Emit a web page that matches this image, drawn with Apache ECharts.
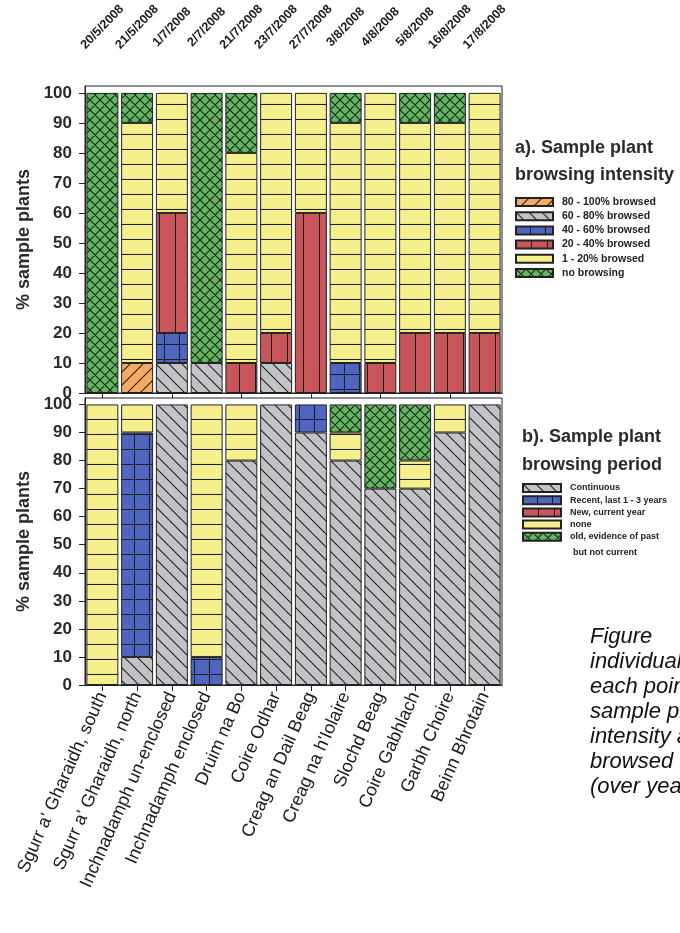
<!DOCTYPE html>
<html><head><meta charset="utf-8">
<script src="https://cdn.jsdelivr.net/npm/echarts@6/dist/echarts.min.js"></script>
<style>html,body{margin:0;padding:0;background:#fff}#c{width:680px;height:933px}</style>
</head><body><div id="c"></div>
<script>
// ---- data ----
const dates = ['20/5/2008','21/5/2008','1/7/2008','2/7/2008','21/7/2008','23/7/2008','27/7/2008','3/8/2008','4/8/2008','5/8/2008','16/8/2008','17/8/2008'];
const sites = ["Sgurr a' Gharaidh, south","Sgurr a' Gharaidh, north","Inchnadamph un-enclosed","Inchnadamph enclosed","Druim na Bo","Coire Odhar","Creag an Dail Beag","Creag na h'Iolaire","Slochd Beag","Coire Gabhlach","Garbh Choire","Beinn Bhrotain"];
const yTicks = [0,10,20,30,40,50,60,70,80,90,100];

const intensityNames = ['80 - 100% browsed','60 - 80% browsed','40 - 60% browsed','20 - 40% browsed','1 - 20% browsed','no browsing'];
const int80to100 = [0,10,0,0,0,0,0,0,0,0,0,0];
const int60to80  = [0,0,10,10,0,10,0,0,0,0,0,0];
const int40to60  = [0,0,10,0,0,0,0,10,0,0,0,0];
const int20to40  = [0,0,40,0,10,10,60,0,10,20,20,20];
const int1to20   = [0,80,40,0,70,80,40,80,90,70,70,80];
const intNoBrowse= [100,10,0,90,20,0,0,10,0,10,10,0];

const periodNames = ['Continuous','Recent, last 1 - 3 years','New, current year','none','old, evidence of past'];
const perContinuous = [0,10,100,0,80,100,90,80,70,70,90,100];
const perRecent     = [0,80,0,10,0,0,10,0,0,0,0,0];
const perNew        = [0,0,0,0,0,0,0,0,0,0,0,0];
const perNone       = [100,10,0,90,20,0,0,10,0,10,10,0];
const perOld        = [0,0,0,0,0,0,0,10,30,20,0,0];

// ---- patterns ----
function pat(bg, kind, s){
  const c=document.createElement('canvas'); c.width=s; c.height=s;
  const g=c.getContext('2d'); g.fillStyle=bg; g.fillRect(0,0,s,s);
  g.strokeStyle='#1e1e1e'; g.lineWidth=1.1; g.beginPath();
  if(kind==='h'||kind==='grid'){ g.moveTo(0,s-0.5); g.lineTo(s,s-0.5); }
  if(kind==='v'||kind==='grid'){ g.moveTo(s-0.5,0); g.lineTo(s-0.5,s); }
  if(kind==='bs'||kind==='x'){ for(let k=-1;k<=1;k++){ g.moveTo(k*s,0); g.lineTo(k*s+s,s);} }
  if(kind==='fs'||kind==='x'){ for(let k=-1;k<=1;k++){ g.moveTo(k*s,s); g.lineTo(k*s+s,0);} }
  g.stroke();
  return {image:c, repeat:'repeat'};
}
const P = {
  orange: pat('#f4aa62','fs',13),
  grey:   pat('#c3c3c7','bs',13),
  blue:   pat('#5065c0','grid',15),
  red:    pat('#c8565a','v',16),
  yellow: pat('#f5f08c','h',15),
  green:  pat('#62b85e','x',10)
};

const FONT = "'Liberation Sans', Arial, sans-serif";
const nz = a => a.map(v => v === 0 ? '-' : v);
function bar(name, data, color, xi, yi){
  return {name, type:'bar', stack:'s'+yi, xAxisIndex:xi, yAxisIndex:yi, data:nz(data),
    barCategoryGap:'8%', itemStyle:{color, borderColor:'#222', borderWidth:1}};
}

const yAxisBase = (gi) => ({
  type:'value', gridIndex:gi, min:0, max:102.3, interval:10,
  axisLine:{show:true, lineStyle:{color:'#222', width:1}},
  axisTick:{show:true, length:6, customValues:yTicks, lineStyle:{color:'#222'}},
  axisLabel:{customValues:yTicks, margin:13, color:'#2a2a2a', fontSize:17, fontWeight:'bold', fontFamily:FONT},
  splitLine:{show:false},
  name:'% sample plants', nameLocation:'middle', nameGap:52,
  nameTextStyle:{color:'#2a2a2a', fontSize:18, fontWeight:'bold', fontFamily:FONT}
});

const chart = echarts.init(document.getElementById('c'), null, {renderer:'canvas'});
chart.setOption({
  animation:false,
  backgroundColor:'#fff',
  grid:[
    {left:85, right:178, top:86, height:307, show:true, borderColor:'#222', borderWidth:1, backgroundColor:'transparent', outerBoundsMode:'none', containLabel:false},
    {left:85, right:178, top:398, height:287, show:true, borderColor:'#222', borderWidth:1, backgroundColor:'transparent', outerBoundsMode:'none', containLabel:false}
  ],
  xAxis:[
    {type:'category', gridIndex:0, data:dates, position:'bottom',
      axisLine:{lineStyle:{color:'#222'}}, axisTick:{show:true, alignWithLabel:true, length:5, lineStyle:{color:'#222'}}, axisLabel:{show:false}},
    {type:'category', gridIndex:0, data:dates, position:'top',
      axisLine:{show:false}, axisTick:{show:false},
      axisLabel:{show:true, interval:0, rotate:-46, align:'center', verticalAlign:'middle', margin:59, color:'#1a1a1a', fontSize:12.5, fontWeight:'bold', fontFamily:FONT}},
    {type:'category', gridIndex:1, data:sites, position:'bottom',
      axisLine:{lineStyle:{color:'#222'}}, axisTick:{show:true, alignWithLabel:true, length:6, lineStyle:{color:'#222'}},
      axisLabel:{interval:0, rotate:66, margin:8, color:'#1a1a1a', fontSize:18, fontFamily:FONT}}
  ],
  yAxis:[yAxisBase(0), yAxisBase(1)],
  legend:[
    {data:intensityNames, orient:'vertical', left:510, top:191, itemWidth:37, itemHeight:8, itemGap:2.2, icon:'rect',
      textStyle:{fontSize:10.5, fontWeight:'bold', color:'#222', fontFamily:FONT, lineHeight:12, padding:[0,0,0,4]}, selectedMode:false},
    {data:periodNames, orient:'vertical', left:517, top:478, itemWidth:38, itemHeight:8, itemGap:2.2, icon:'rect',
      textStyle:{fontSize:9, fontWeight:'bold', color:'#222', fontFamily:FONT, lineHeight:10, padding:[0,0,0,4]}, selectedMode:false}
  ],
  series:[
    bar(intensityNames[0], int80to100, P.orange, 0, 0),
    bar(intensityNames[1], int60to80, P.grey, 0, 0),
    bar(intensityNames[2], int40to60, P.blue, 0, 0),
    bar(intensityNames[3], int20to40, P.red, 0, 0),
    bar(intensityNames[4], int1to20, P.yellow, 0, 0),
    bar(intensityNames[5], intNoBrowse, P.green, 0, 0),
    bar(periodNames[0], perContinuous, P.grey, 2, 1),
    bar(periodNames[1], perRecent, P.blue, 2, 1),
    bar(periodNames[2], perNew, P.red, 2, 1),
    bar(periodNames[3], perNone, P.yellow, 2, 1),
    bar(periodNames[4], perOld, P.green, 2, 1)
  ],
  graphic:[
    {type:'text', left:515, top:139, style:{text:'a). Sample plant', font:"bold 18px "+FONT, fill:'#2a2a2a'}},
    {type:'text', left:515, top:166, style:{text:'browsing intensity', font:"bold 18px "+FONT, fill:'#2a2a2a'}},
    {type:'text', left:522, top:428, style:{text:'b). Sample plant', font:"bold 18px "+FONT, fill:'#2a2a2a'}},
    {type:'text', left:522, top:456, style:{text:'browsing period', font:"bold 18px "+FONT, fill:'#2a2a2a'}},
    {type:'text', left:573, top:548, style:{text:'but not current', font:"bold 9px "+FONT, fill:'#222'}},
    {type:'text', left:590, top:624, style:{text:'Figure\nindividual plants at\neach point; % of\nsample plants by\nintensity and period\nbrowsed\n(over years)', font:"italic 22px "+FONT, lineHeight:25, fill:'#111'}}
  ]
});
</script></body></html>
